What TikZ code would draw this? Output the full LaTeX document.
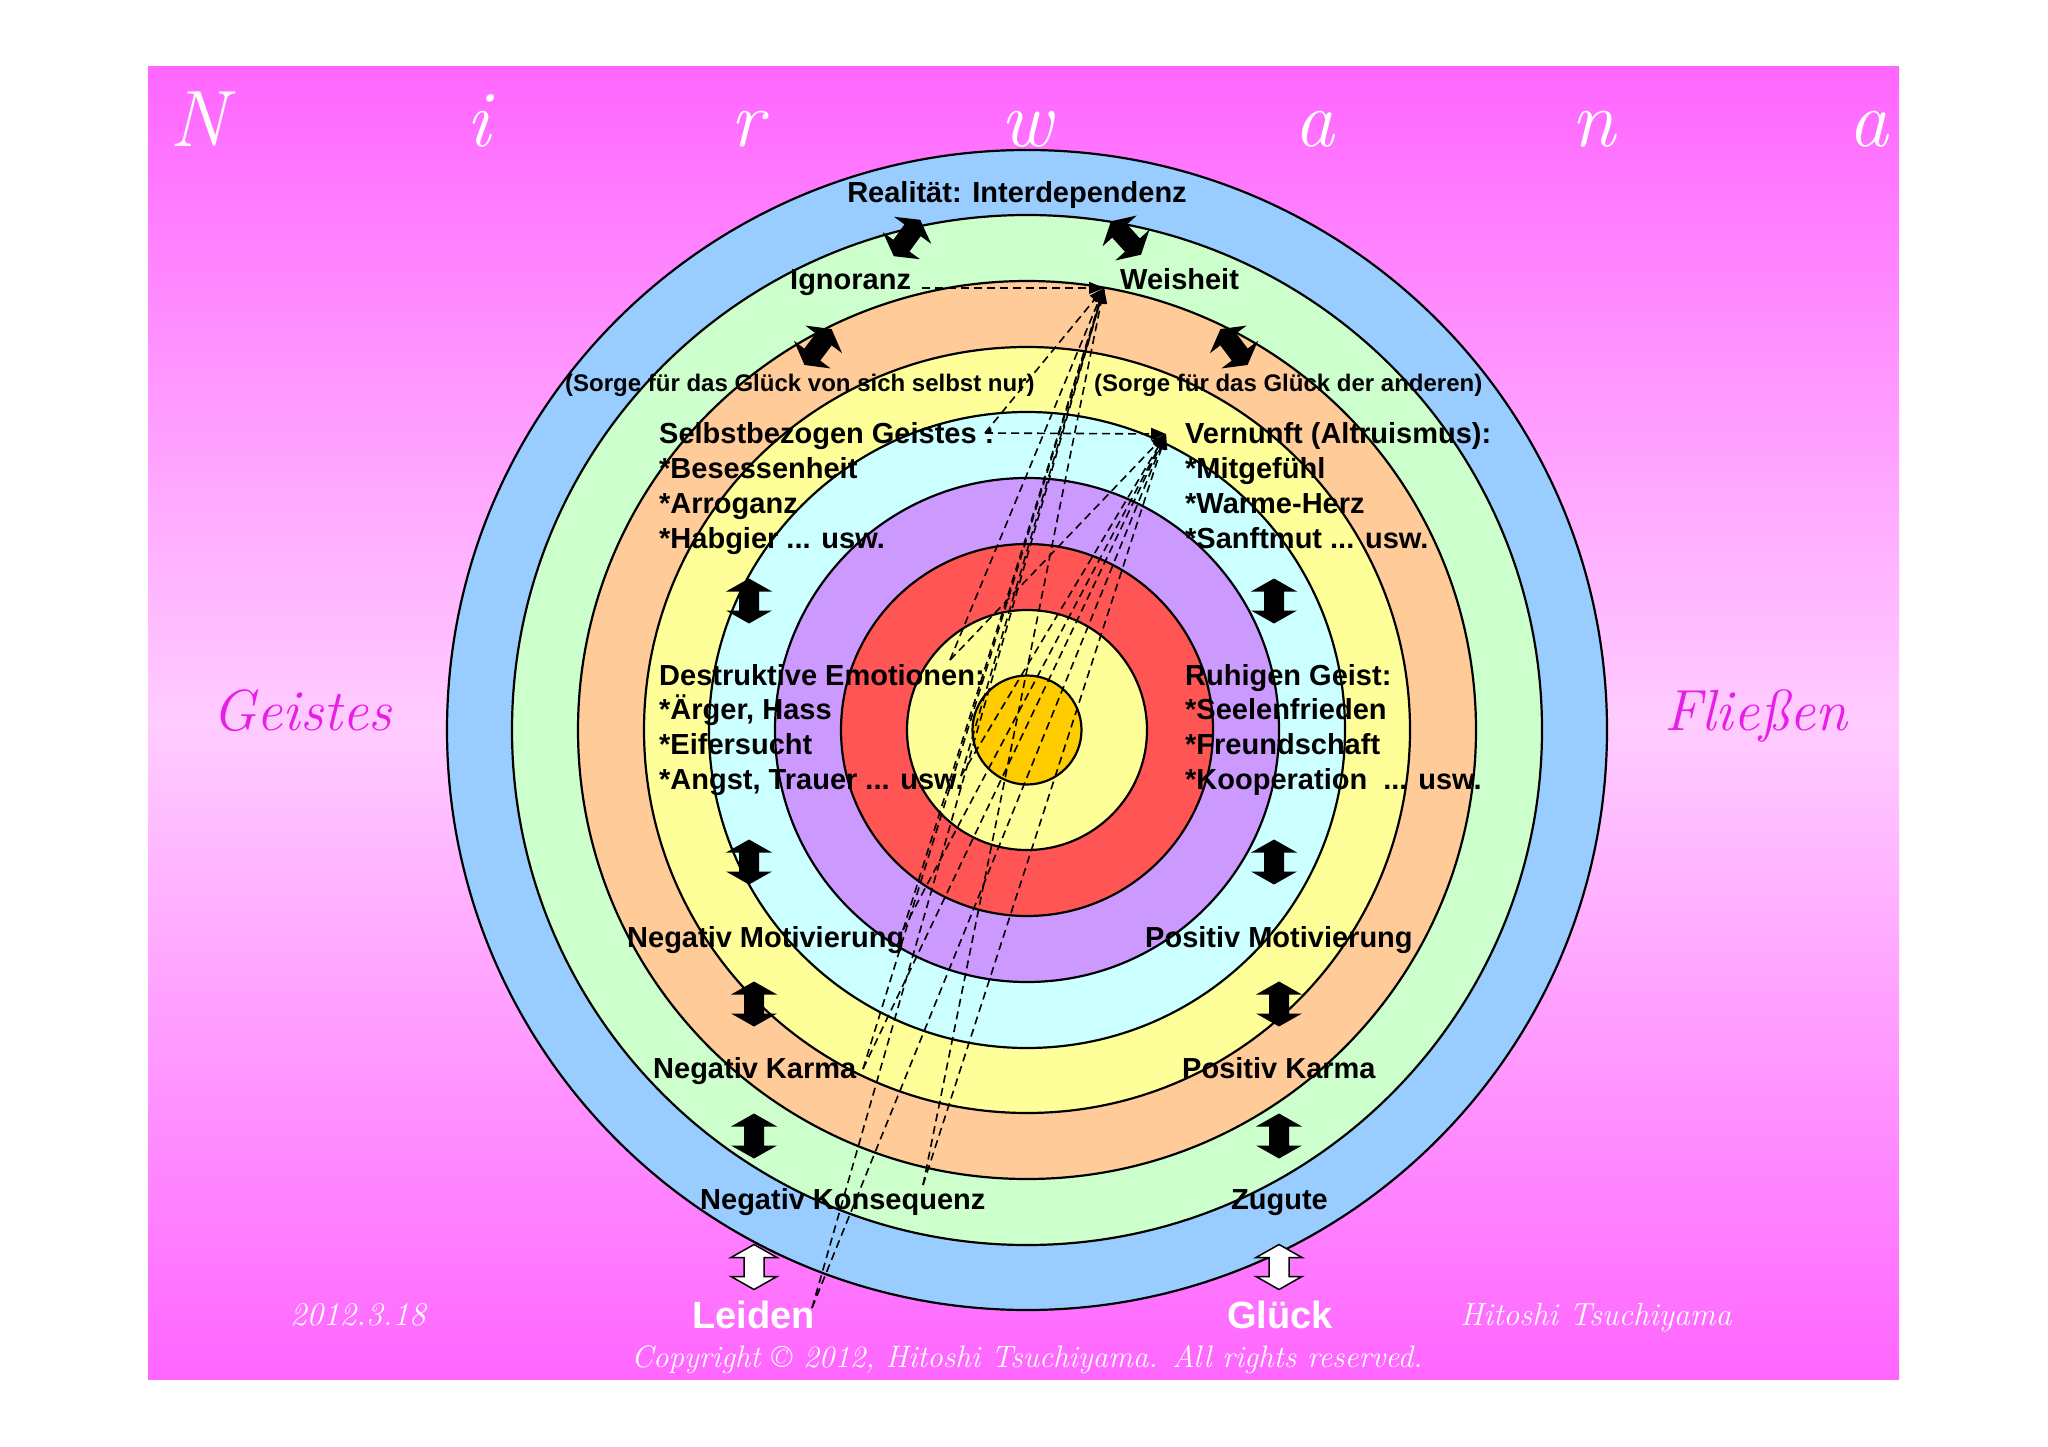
\documentclass[tikz,border=0pt]{standalone}
\usepackage{fontspec}
\newfontfamily\labfont{Liberation Sans}
\usetikzlibrary{arrows.meta}
\definecolor{bgdark}{HTML}{FF66FF}
\definecolor{bglight}{HTML}{FFCCFF}
\definecolor{ringblue}{HTML}{99CCFF}
\definecolor{ringgreen}{HTML}{CCFFCC}
\definecolor{ringpeach}{HTML}{FFCC99}
\definecolor{ringyellow}{HTML}{FFFF99}
\definecolor{ringcyan}{HTML}{CCFFFF}
\definecolor{ringpurple}{HTML}{CC99FF}
\definecolor{ringred}{HTML}{FF5555}
\definecolor{ringgold}{HTML}{FFCC00}
\definecolor{scriptmag}{RGB}{232,30,232}
\tikzset{
  ring/.style={draw=black, line width=2.2pt},
  lab/.style={font=\labfont\bfseries\fontsize{29}{34}\selectfont, inner sep=0pt, anchor=base west},
  smalllab/.style={font=\labfont\bfseries\fontsize{24}{28}\selectfont, inner sep=0pt, anchor=base west},
  biglab/.style={font=\labfont\bfseries\fontsize{38}{44}\selectfont, inner sep=0pt, anchor=base west, text=white},
  titleletter/.style={font=\itshape\fontsize{80}{90}\selectfont, text=white, inner sep=0pt, anchor=base},
  sidescript/.style={font=\itshape\fontsize{58}{66}\selectfont, text=scriptmag, inner sep=0pt, anchor=base},
  footscript/.style={font=\itshape\fontsize{#1}{#1}\selectfont, text=white, inner sep=0pt},
  dline/.style={line width=1.6pt, dash pattern=on 8pt off 5pt, -{Triangle[length=15pt,width=12pt]}},
  dblarr/.pic={\path[pic actions] (0,-22.5) -- (23,-9.5) -- (10,-9.5) -- (10,9.5) -- (23,9.5) -- (0,22.5)
      -- (-23,9.5) -- (-10,9.5) -- (-10,-9.5) -- (-23,-9.5) -- cycle;},
  blackarr/.style={fill=black},
  whitearr/.style={fill=white, draw=black, line width=1.5pt, line join=miter},
}
\begin{document}
\begin{tikzpicture}[x=1pt,y=-1pt]
\useasboundingbox (0,0) rectangle (2048,1447);
\fill[white] (0,0) rectangle (2048,1447);
% background
\shade[top color=bgdark, bottom color=bgdark, middle color=bglight] (148,67) rectangle (1899,1379);
% rings
\coordinate (c) at (1027,730);
\draw[ring, fill=ringblue]   (c) circle[radius=580pt];
\draw[ring, fill=ringgreen]  (c) circle[radius=515pt];
\draw[ring, fill=ringpeach]  (c) circle[radius=449pt];
\draw[ring, fill=ringyellow] (c) circle[radius=383pt];
\draw[ring, fill=ringcyan]   (c) circle[radius=318pt];
\draw[ring, fill=ringpurple] (c) circle[radius=252pt];
\draw[ring, fill=ringred]    (c) circle[radius=186pt];
\draw[ring, fill=ringyellow] (c) circle[radius=120pt];
\draw[ring, fill=ringgold]   (c) circle[radius=54.5pt];
% title
\node[titleletter] (tN) at (199,147) {N};
\node[titleletter] (ti) at (478,147) {i};
\node[titleletter] (tr) at (747,147) {r};
\node[titleletter] (tw) at (1026,147) {w};
\node[titleletter] (ta1) at (1314,147) {a};
\node[titleletter] (tn) at (1593,147) {n};
\node[titleletter] (ta2) at (1868,147) {a};
% side words
\node[sidescript] (geistes) at (302,730) {Geistes};
\node[sidescript] (fliessen) at (1756,730) {Fließen};
% labels
\node[lab, anchor=base] (real) at (1017,203) {Realität: Interdependenz};
\node[lab] (ign) at (790,290) {Ignoranz};
\node[lab] (weis) at (1120,290) {Weisheit};
\node[smalllab] (sorgeL) at (565,391) {(Sorge für das Glück von sich selbst nur)};
\node[smalllab] (sorgeR) at (1094,391) {(Sorge für das Glück der anderen)};
\node[lab] (selb1) at (659,443) {Selbstbezogen Geistes :};
\node[lab] (selb2) at (659,478) {*Besessenheit};
\node[lab] (selb3) at (659,513) {*Arroganz};
\node[lab] (selb4) at (659,548) {*Habgier ... usw.};
\node[lab] (vern1) at (1185,443) {Vernunft (Altruismus):};
\node[lab] (vern2) at (1185,478) {*Mitgefühl};
\node[lab] (vern3) at (1185,513) {*Warme-Herz};
\node[lab] (vern4) at (1185,548) {*Sanftmut ... usw.};
\node[lab] (dest1) at (659,685) {Destruktive Emotionen:};
\node[lab] (dest2) at (659,719) {*Ärger, Hass};
\node[lab] (dest3) at (659,754) {*Eifersucht};
\node[lab] (dest4) at (659,789) {*Angst, Trauer ... usw.};
\node[lab] (ruh1) at (1185,685) {Ruhigen Geist:};
\node[lab] (ruh2) at (1185,719) {*Seelenfrieden};
\node[lab] (ruh3) at (1185,754) {*Freundschaft};
\node[lab] (ruh4) at (1185,789) {*Kooperation\ \ ... usw.};
\node[lab] (negmot) at (627,947) {Negativ Motivierung};
\node[lab] (posmot) at (1145,947) {Positiv Motivierung};
\node[lab] (negkar) at (653,1078) {Negativ Karma};
\node[lab] (poskar) at (1182,1078) {Positiv Karma};
\node[lab] (negkon) at (700,1209) {Negativ Konsequenz};
\node[lab] (zugute) at (1231,1209) {Zugute};
\node[biglab] (leiden) at (692,1328) {Leiden};
\node[biglab] (glueck) at (1227,1328) {Glück};
% footer
\node[footscript=33, anchor=base west] (date) at (290,1325) {2012.3.18};
\node[footscript=32, anchor=base west] (author) at (1460,1325) {Hitoshi Tsuchiyama};
\node[footscript=31, anchor=base] (copy) at (1027,1367) {Copyright © 2012, Hitoshi Tsuchiyama. All rights reserved.};
% block arrows
\pic[blackarr, rotate=-36] at (907,238) {dblarr};
\pic[blackarr, rotate=42] at (1126,238) {dblarr};
\pic[blackarr, rotate=-37] at (818,347) {dblarr};
\pic[blackarr, rotate=37] at (1234,347) {dblarr};
\pic[blackarr] at (749,601) {dblarr};
\pic[blackarr] at (749,862) {dblarr};
\pic[blackarr] at (754,1004) {dblarr};
\pic[blackarr] at (754,1136) {dblarr};
\pic[whitearr] at (754,1267) {dblarr};
\pic[blackarr] at (1274,601) {dblarr};
\pic[blackarr] at (1274,862) {dblarr};
\pic[blackarr] at (1279,1004) {dblarr};
\pic[blackarr] at (1279,1136) {dblarr};
\pic[whitearr] at (1279,1267) {dblarr};
% dashed connectors
\coordinate (tW) at (1104,288);
\coordinate (tV) at (1166,434);
\coordinate (sIgn) at (922,288);
\coordinate (sSelb) at (985,433);
\coordinate (sDest) at (950,660);
\coordinate (sAngst) at (961,776);
\coordinate (sMot) at (903,930);
\coordinate (sKarma) at (863,1069);
\coordinate (sKons) at (923,1185);
\coordinate (sLeid) at (812,1308);
\draw[dline] (sIgn) -- (tW);
\foreach \s in {sSelb,sDest,sAngst,sMot,sKarma,sKons,sLeid}{
  \draw[dline] (\s) -- (tW);
  \draw[dline] (\s) -- (tV);
}
\end{tikzpicture}
\end{document}
